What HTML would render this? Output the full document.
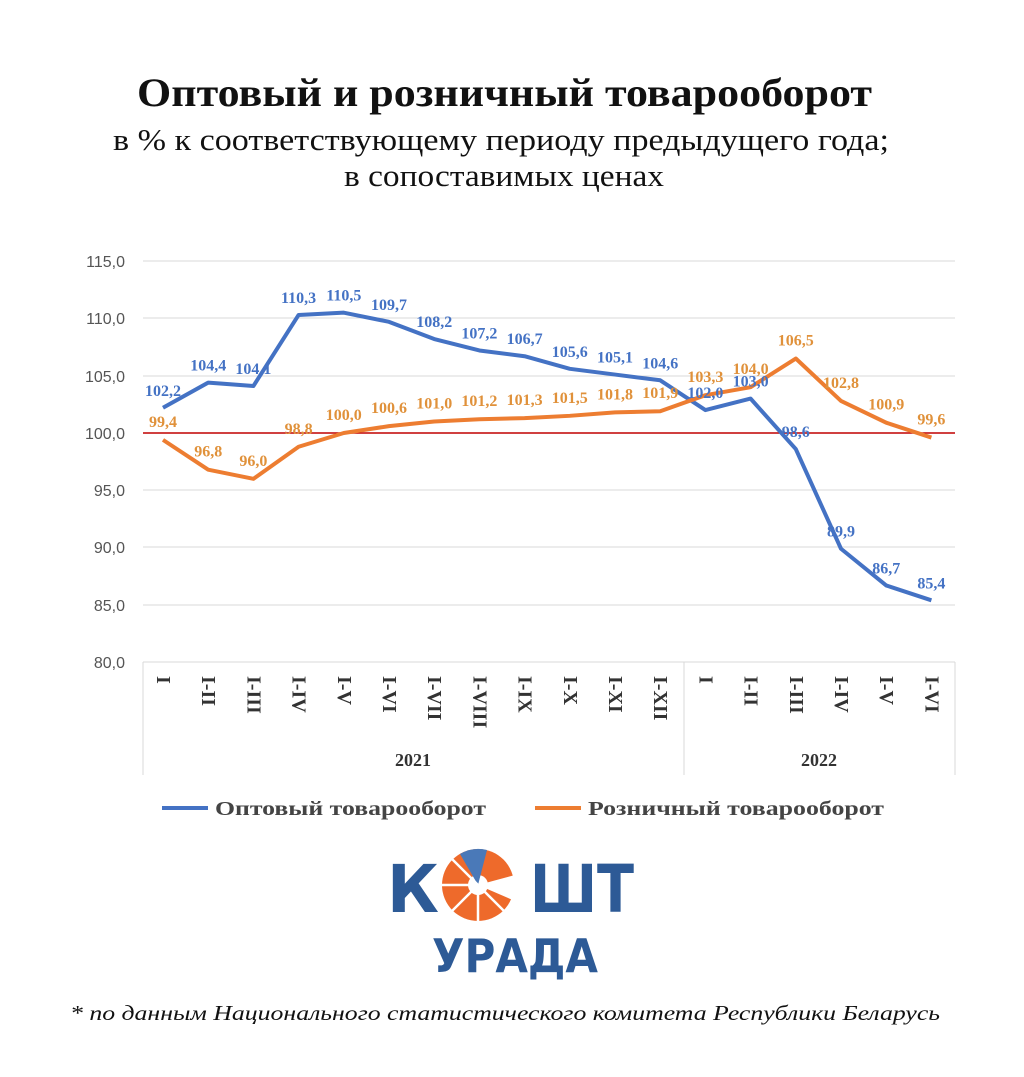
<!DOCTYPE html>
<html><head><meta charset="utf-8"><style>
body{margin:0;background:#fff;width:1024px;height:1072px;overflow:hidden}
</style></head><body>
<svg width="1024" height="1072" xmlns="http://www.w3.org/2000/svg" font-family="Liberation Serif, serif">
<text x="137" y="106" textLength="735" lengthAdjust="spacingAndGlyphs" font-size="40" font-weight="bold" fill="#111">Оптовый и розничный товарооборот</text>
<text x="113" y="150" textLength="776" lengthAdjust="spacingAndGlyphs" font-size="31" fill="#111">в % к соответствующему периоду предыдущего года;</text>
<text x="344" y="186" textLength="320" lengthAdjust="spacingAndGlyphs" font-size="31" fill="#111">в сопоставимых ценах</text>
<g stroke="#d9d9d9" stroke-width="1">
<line x1="143" x2="955" y1="261" y2="261"/><line x1="143" x2="955" y1="318" y2="318"/>
<line x1="143" x2="955" y1="376" y2="376"/><line x1="143" x2="955" y1="490" y2="490"/>
<line x1="143" x2="955" y1="547" y2="547"/><line x1="143" x2="955" y1="605" y2="605"/>
<line x1="143" x2="955" y1="662" y2="662"/>
<line x1="143" x2="143" y1="662" y2="775"/><line x1="684" x2="684" y1="662" y2="775"/><line x1="955" x2="955" y1="662" y2="775"/>
</g>
<line x1="143" x2="955" y1="433" y2="433" stroke="#c00000" stroke-width="1.5"/>
<g font-family="Liberation Sans, sans-serif" font-size="16" fill="#555" text-anchor="end">
<text x="125" y="267">115,0</text><text x="125" y="324">110,0</text><text x="125" y="382">105,0</text>
<text x="125" y="439">100,0</text><text x="125" y="496">95,0</text><text x="125" y="553">90,0</text>
<text x="125" y="611">85,0</text><text x="125" y="668">80,0</text></g>
<g id="xl" font-size="20" font-weight="bold" fill="#333"></g>
<text x="413" y="766" text-anchor="middle" font-size="18" font-weight="bold" fill="#333">2021</text>
<text x="819" y="766" text-anchor="middle" font-size="18" font-weight="bold" fill="#333">2022</text>
<polyline id="bl" fill="none" stroke="#4472c4" stroke-width="4" stroke-linejoin="round"/>
<polyline id="ol" fill="none" stroke="#ed7d31" stroke-width="4" stroke-linejoin="round"/>
<g id="bt" font-size="16" font-weight="bold" fill="#4472c4" text-anchor="middle"></g>
<g id="ot" font-size="16" font-weight="bold" fill="#e0913a" text-anchor="middle"></g>
<line x1="162" x2="208" y1="808" y2="808" stroke="#4472c4" stroke-width="4"/>
<text x="215" y="815" textLength="271" lengthAdjust="spacingAndGlyphs" font-size="20" font-weight="bold" fill="#444">Оптовый товарооборот</text>
<line x1="535" x2="581" y1="808" y2="808" stroke="#ed7d31" stroke-width="4"/>
<text x="588" y="815" textLength="296" lengthAdjust="spacingAndGlyphs" font-size="20" font-weight="bold" fill="#444">Розничный товарооборот</text>
<g font-family="DejaVu Sans, sans-serif" font-weight="bold" fill="#2d5a96">
<text x="387" y="912" textLength="52" lengthAdjust="spacingAndGlyphs" font-size="66">К</text>
<text x="530" y="912" textLength="104" lengthAdjust="spacingAndGlyphs" font-size="66">ШТ</text>
<text x="432" y="972" textLength="166" lengthAdjust="spacingAndGlyphs" font-size="46">УРАДА</text></g>
<g transform="translate(478,885)">
<circle r="36" fill="#ee6a2b"/><circle r="10" fill="#fff"/>
<path d="M0 0 L37 -10 L37 16 Z" fill="#fff"/>
<path d="M-18 -31 A36 36 0 0 1 9 -35 L0 0Z" fill="#4a79b8"/>
<g stroke="#fff" stroke-width="2.5"><line x1="0" y1="0" x2="-37" y2="0"/><line x1="0" y1="0" x2="-26" y2="26"/><line x1="0" y1="0" x2="0" y2="37"/><line x1="0" y1="0" x2="26" y2="26"/><line x1="0" y1="0" x2="-26" y2="-26"/></g>
</g>
<text x="70" y="1020" textLength="870" lengthAdjust="spacingAndGlyphs" font-size="21" font-style="italic" fill="#111">* по данным Национального статистического комитета  Республики Беларусь</text>
</svg>
<script>
var B=[102.2,104.4,104.1,110.3,110.5,109.7,108.2,107.2,106.7,105.6,105.1,104.6,102.0,103.0,98.6,89.9,86.7,85.4];
var O=[99.4,96.8,96.0,98.8,100.0,100.6,101.0,101.2,101.3,101.5,101.8,101.9,103.3,104.0,106.5,102.8,100.9,99.6];
var L=["I","I-II","I-III","I-IV","I-V","I-VI","I-VII","I-VIII","I-IX","I-X","I-XI","I-XII","I","I-II","I-III","I-IV","I-V","I-VI"];
function X(i){return 163+i*45.2}function Y(v){return 433-(v-100)*11.46}
var ns="http://www.w3.org/2000/svg";
document.getElementById('bl').setAttribute('points',B.map((v,i)=>X(i)+','+Y(v)).join(' '));
document.getElementById('ol').setAttribute('points',O.map((v,i)=>X(i)+','+Y(v)).join(' '));
function t(g,x,y,s,tr){var e=document.createElementNS(ns,'text');e.setAttribute('x',x);e.setAttribute('y',y);if(tr)e.setAttribute('transform',tr);e.textContent=s;document.getElementById(g).appendChild(e)}
B.forEach((v,i)=>t('bt',X(i),Y(v)-12,v.toFixed(1).replace('.',',')));
O.forEach((v,i)=>t('ot',X(i),Y(v)-13,v.toFixed(1).replace('.',',')));
L.forEach((s,i)=>t('xl',0,0,s,'translate('+(X(i)-6)+',676) rotate(90)'));
</script>
</body></html>
